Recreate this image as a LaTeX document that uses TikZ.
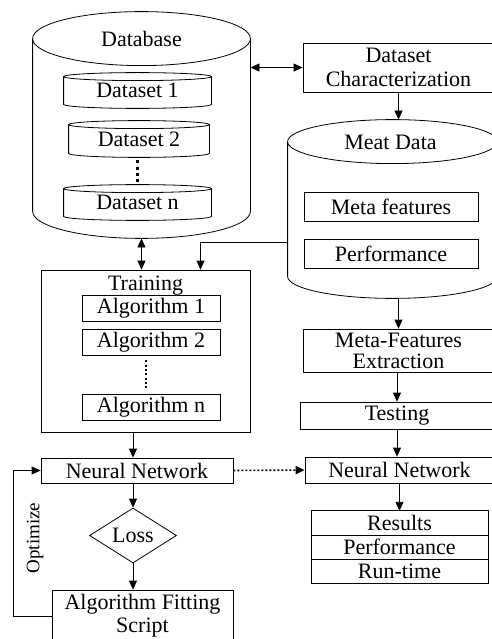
\documentclass[tikz,border=0pt]{standalone}
\usepackage{fontspec}
\setmainfont{Liberation Serif}
\usetikzlibrary{arrows.meta,positioning,shapes.geometric,calc}

% outline of a standing cylinder round a node (#2 = y radius of the ends)
\newcommand\cylframe[2]{%
  \draw let \p1=(#1.north west), \p2=(#1.south east), \n1={(\x2-\x1)/2} in
    (\x1,\y1-#2) -- (\x1,\y2+#2)
    arc[start angle=180, end angle=360, x radius=\n1, y radius=#2]
    -- (\x2,\y1-#2)
    arc[start angle=0, end angle=180, x radius=\n1, y radius=#2]
    arc[start angle=180, end angle=360, x radius=\n1, y radius=#2];
}

\begin{document}
\begin{tikzpicture}[x=1pt, y=1pt, line width=0.8pt,
  >={Triangle[length=9pt, width=8pt]},
  font=\fontsize{22pt}{24pt}\selectfont,
  box/.style={draw, rectangle, inner sep=0pt, align=center},
  holder/.style={inner sep=0pt, align=center},
  cell/.style={box, outer sep=0pt, minimum width=177pt, minimum height=24.3pt}]

  \useasboundingbox (0,0) rectangle (491,-639);

  % Database
  \node[holder, minimum width=217pt, minimum height=226pt] (db) at (141.5,-125) {};
  \node (dblbl) at (141.5,-39) {Database};
  \node[holder, minimum width=147pt, minimum height=35pt] (ds1) at (137.5,-90.5) {Dataset 1};
  \node[holder, minimum width=140pt, minimum height=36pt] (ds2) at (139,-139) {Dataset 2};
  \node[holder, minimum width=147pt, minimum height=35pt] (dsn) at (137.5,-202.5) {Dataset n};
  \cylframe{db}{27pt}
  \cylframe{ds1}{4pt}
  \cylframe{ds2}{4pt}
  \cylframe{dsn}{4pt}
  \draw[line width=3pt, dash pattern=on 3pt off 3.3pt, shorten <=3pt, shorten >=3pt]
    (ds2.south -| dsn.north) -- (dsn.north);

  % Characterization and meta data
  \node[box, minimum width=191pt, minimum height=49pt] (dc) at (398.5,-67.5) {Dataset\\Characterization};
  \node[holder, minimum width=209pt, minimum height=178pt] (md) at (392.5,-209) {};
  \node (mdlbl) at (390.5,-142) {Meat Data};
  \cylframe{md}{22pt}
  \node[box, minimum width=174pt, minimum height=29pt] (mf) at (391,-206.5) {Meta features};
  \node[box, minimum width=174pt, minimum height=29pt] (perf) at (391,-253.5) {Performance};

  % Training
  \node[box, minimum width=209pt, minimum height=162pt] (train) at (145.5,-351) {};
  \node[below=6pt of train.north, inner sep=0pt] (trainlbl) {Training};
  \node[box, minimum width=138pt, minimum height=26pt] (alg1) at (151,-308) {Algorithm 1};
  \node[box, minimum width=138pt, minimum height=26pt] (alg2) at (151,-342) {Algorithm 2};
  \node[box, minimum width=138pt, minimum height=26pt] (algn) at (151,-407) {Algorithm n};
  \draw[line width=2pt, dash pattern=on 2pt off 2.3pt, shorten <=5pt, shorten >=6pt]
    ([xshift=-5pt]alg2.south) -- ([xshift=-5pt]algn.north);

  % Right column
  \node[box, minimum width=191pt, minimum height=43pt, font=\fontsize{22pt}{21pt}\selectfont]
    (mfe) at (398.5,-350.5) {Meta-Features\\Extraction};
  \node[box, minimum width=194pt, minimum height=27pt] (test) at (397,-415.5) {Testing};
  \node[box, minimum width=189pt, minimum height=26pt] (nnR) at (399.5,-470) {Neural Network};
  \node[cell] (res) at (399.5,-523) {Results};
  \node[cell, below=0pt of res] (perfR) {Performance};
  \node[cell, below=0pt of perfR] (run) {Run-time};

  % Left column
  \node[box, minimum width=192pt, minimum height=25pt] (nnL) at (137,-470.5) {Neural Network};
  \node[draw, diamond, aspect=1.58, minimum width=87pt, minimum height=55pt, inner sep=0pt]
    (loss) at (133,-535.5) {Loss};
  \node[box, minimum width=181pt, minimum height=52pt, font=\fontsize{22pt}{23pt}\selectfont]
    (afs) at (142.5,-616) {Algorithm Fitting\\Script};
  \node[rotate=90, font=\fontsize{19pt}{22pt}\selectfont] (optlbl) at (35,-538) {Optimize};

  % Connectors
  \draw[<->] (db.east |- dc.west) -- (dc.west);
  \draw[<->] (db.south) -- (db.south |- train.north);
  \draw[->] (dc.south) -- (dc.south |- md.north);
  \coordinate (mdin) at ([yshift=-33pt]md.west);
  \draw[->] (mdin) -| ([xshift=55pt]train.north);
  \draw[->] (md.south -| mfe) -- (mfe.north);
  \draw[->] (mfe.south -| test) -- (test.north);
  \draw[->] (test.south) -- (test.south |- nnR.north);
  \draw[->] (nnR.south -| res) -- (res.north);
  \draw[->] (train.south -| loss) -- (nnL.north -| loss);
  \draw[->] (nnL.south -| loss) -- (loss.north);
  \draw[->] (loss.south) -- (loss.south |- afs.north);
  \draw[->, line width=1.6pt, dash pattern=on 2pt off 2pt] (nnL.east) -- (nnR.west);
  \draw[->] (afs.west) -- ++(-38,0) |- (nnL.west);

\end{tikzpicture}
\end{document}
